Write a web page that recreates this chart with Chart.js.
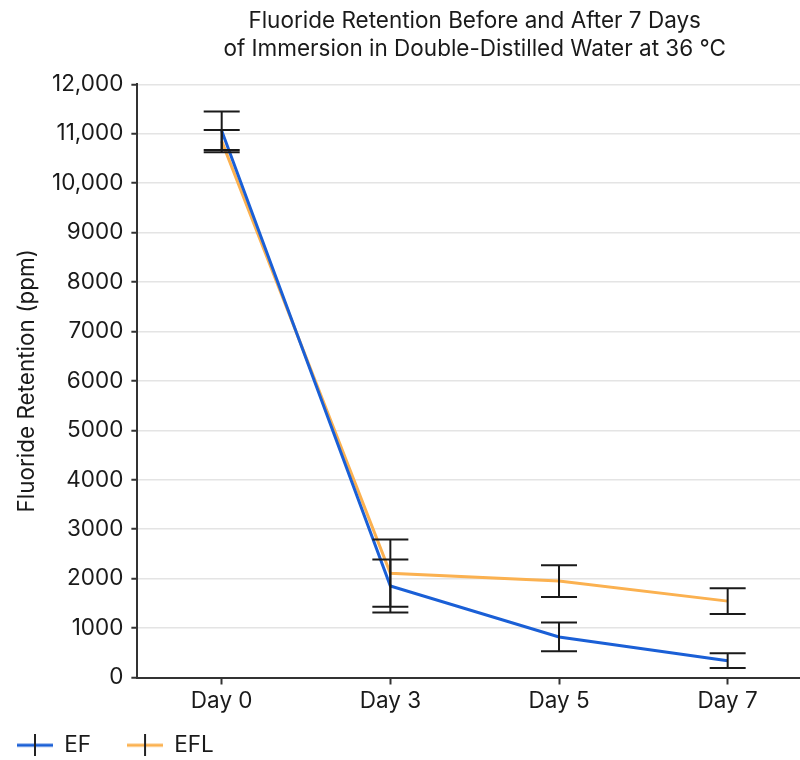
<!DOCTYPE html>
<html>
<head>
<meta charset="utf-8">
<script src="https://cdn.jsdelivr.net/npm/chart.js@4"></script>
<style>
  html, body { margin: 0; padding: 0; background: #fff; overflow: hidden; }
  /* plot runs slightly past the right edge of the window, like the reference */
  #wrap { width: 812px; height: 760px; }
</style>
</head>
<body>
<div id="wrap"><canvas id="chart"></canvas></div>
<script>
// Data
const days = ['Day 0', 'Day 3', 'Day 5', 'Day 7'];
const efValues = [11060, 1850, 820, 340];
const efErrors = [390, 535, 290, 150];
const eflValues = [10850, 2110, 1950, 1545];
const eflErrors = [225, 680, 320, 260];

const blue = '#1a5fd6';
const orange = '#fbb150';
const ink = '#1a1a1a';

// Legend marker: coloured line with a black vertical tick through it
const makeMarker = (color) => {
  const c = document.createElement('canvas');
  c.width = 36; c.height = 22;
  const ctx = c.getContext('2d');
  ctx.strokeStyle = color;
  ctx.lineWidth = 3;
  ctx.beginPath(); ctx.moveTo(0, 11); ctx.lineTo(36, 11); ctx.stroke();
  ctx.strokeStyle = '#222';
  ctx.lineWidth = 2;
  ctx.beginPath(); ctx.moveTo(18, 0); ctx.lineTo(18, 22); ctx.stroke();
  return c;
};

// Draw error bars using the chart's own scales
const errorBars = {
  id: 'errorBars',
  afterDatasetsDraw(chart) {
    const { ctx, scales: { x, y } } = chart;
    ctx.save();
    ctx.strokeStyle = ink;
    ctx.lineWidth = 2;
    chart.data.datasets.forEach(ds => {
      ds.data.forEach((v, i) => {
        const e = ds.errors[i];
        const px = x.getPixelForValue(i);
        const top = y.getPixelForValue(v + e);
        const bot = y.getPixelForValue(v - e);
        ctx.beginPath();
        ctx.moveTo(px, top); ctx.lineTo(px, bot);
        ctx.moveTo(px - 18, top); ctx.lineTo(px + 18, top);
        ctx.moveTo(px - 18, bot); ctx.lineTo(px + 18, bot);
        ctx.stroke();
      });
    });
    ctx.restore();
  }
};

// Nudge the legend into the bottom-left corner, right under the axis labels
const legendPlacer = {
  id: 'legendPlacer',
  afterLayout(chart) {
    const lg = chart.legend;
    lg.left = -19; lg.right = 800;
    lg.top = 698; lg.bottom = 760;
    lg.width = lg.right - lg.left; lg.height = lg.bottom - lg.top;
  }
};

Chart.defaults.font.family = 'Inter, "Noto Sans", sans-serif';
Chart.defaults.color = ink;

new Chart(document.getElementById('chart'), {
  type: 'line',
  data: {
    labels: days,
    datasets: [
      { label: 'EF', data: efValues, errors: efErrors, borderColor: blue, backgroundColor: blue,
        borderWidth: 3, pointRadius: 0, pointStyle: makeMarker(blue) },
      { label: 'EFL', data: eflValues, errors: eflErrors, borderColor: orange, backgroundColor: orange,
        borderWidth: 3, pointRadius: 0, pointStyle: makeMarker(orange) }
    ]
  },
  options: {
    responsive: true,
    maintainAspectRatio: false,
    animation: false,
    layout: { padding: { left: 0, right: 0, top: 0, bottom: -26 } },
    plugins: {
      title: {
        display: true,
        fullSize: false,
        text: ['Fluoride Retention Before and After 7 Days', 'of Immersion in Double-Distilled Water at 36 °C'],
        font: { size: 22.5, weight: 'normal', lineHeight: 1.25 },
        color: ink,
        padding: { top: 7, bottom: 21 }
      },
      legend: {
        position: 'bottom',
        align: 'start',
        labels: {
          usePointStyle: true,
          pointStyleWidth: 36,
          font: { size: 22.5 },
          color: ink,
          padding: 36
        }
      },
      tooltip: { enabled: false }
    },
    scales: {
      x: {
        offset: true,
        grid: { offset: false, drawOnChartArea: false, tickLength: 7, tickColor: '#333', tickWidth: 2 },
        border: { color: '#333', width: 2 },
        ticks: { font: { size: 22.5 }, color: ink, padding: 3 }
      },
      y: {
        min: 0,
        max: 12000,
        ticks: {
          stepSize: 1000,
          font: { size: 22.5 },
          color: ink,
          padding: 8,
          callback: v => v >= 10000 ? v.toLocaleString('en-US') : String(v)
        },
        grid: { color: '#e4e4e4', lineWidth: 1.5, tickLength: 6, tickColor: '#333', tickWidth: 2 },
        border: { color: '#333', width: 2 },
        title: {
          display: true,
          text: 'Fluoride Retention (ppm)',
          font: { size: 22.5 },
          color: ink,
          padding: { top: 14, bottom: 3 }
        }
      }
    }
  },
  plugins: [errorBars, legendPlacer]
});
</script>
</body>
</html>
